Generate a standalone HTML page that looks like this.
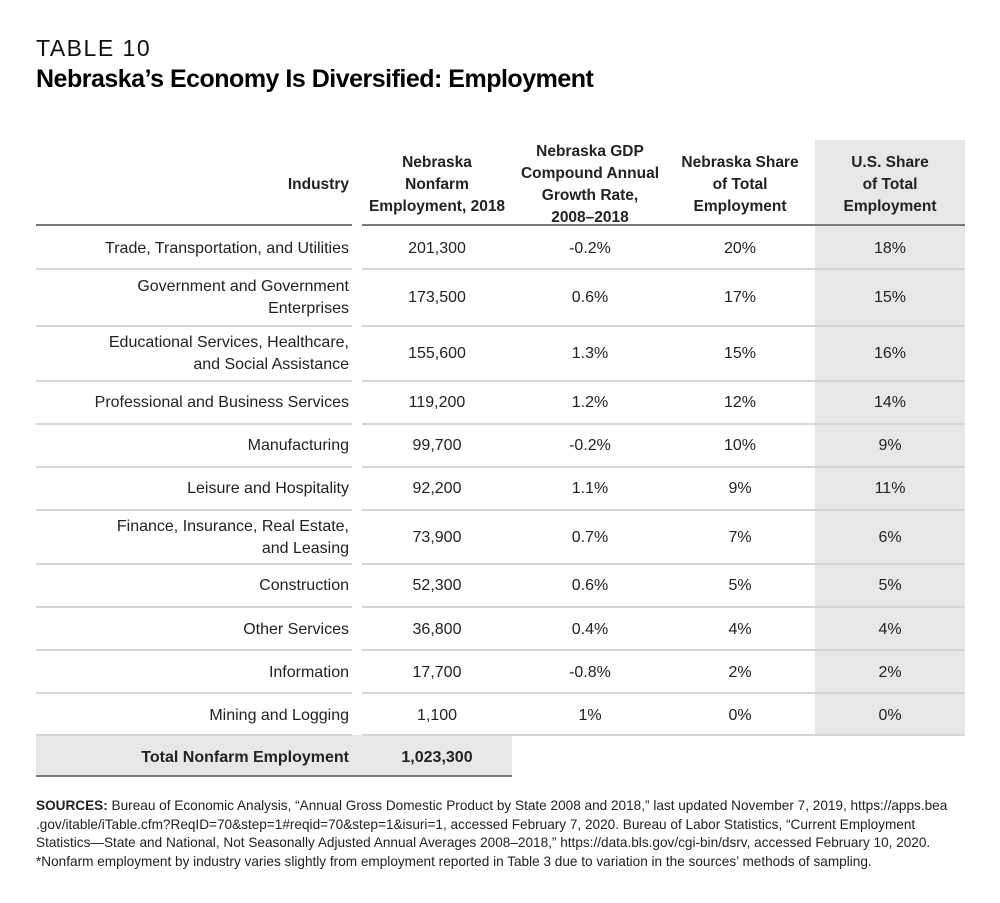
<!DOCTYPE html>
<html><head><meta charset="utf-8"><style>
body{margin:0;background:#fff;width:1000px;height:903px;position:relative;font-family:"Liberation Sans",sans-serif;color:#222;overflow:hidden}
.a{position:absolute}
.t{position:absolute;font-size:16px;line-height:22px;white-space:nowrap}
.r{text-align:right}
.c{text-align:center;transform:translateX(-50%)}
.h{font-weight:bold;font-size:15.5px;line-height:22px}
.ln{position:absolute;height:2px;background:#d6d6d6}
.hl{position:absolute;height:2px;background:#7a7a7a}
</style></head><body>
<div class="a" style="left:36px;top:35px;font-size:23px;letter-spacing:1.5px;color:#111">TABLE 10</div>
<div class="a" style="left:36px;top:65px;font-size:25px;font-weight:bold;color:#000;letter-spacing:-0.5px">Nebraska’s Economy Is Diversified: Employment</div>
<div class="a" style="left:815px;top:140px;width:150px;height:595px;background:#e6e7e8"></div>
<div class="a" style="left:36px;top:735px;width:476px;height:41px;background:#e6e7e8"></div>
<div class="hl" style="left:36px;top:224px;width:316px"></div>
<div class="hl" style="left:362px;top:224px;width:603px"></div>
<div class="hl" style="left:36px;top:775px;width:476px"></div>
<div class="t h r" style="left:36px;width:313px;top:174px">Industry</div>
<div class="t h c" style="left:437px;top:152px;text-align:center">Nebraska<br>Nonfarm<br>Employment, 2018</div>
<div class="t h c" style="left:590px;top:141px;text-align:center">Nebraska GDP<br>Compound Annual<br>Growth Rate,<br>2008–2018</div>
<div class="t h c" style="left:740px;top:152px;text-align:center">Nebraska Share<br>of Total<br>Employment</div>
<div class="t h c" style="left:890px;top:152px;text-align:center">U.S. Share<br>of Total<br>Employment</div>
<div id="rows"></div>
<script>
var d=[["Trade, Transportation, and Utilities","201,300","-0.2%","20%","18%",247,268],
["Government and Government<br>Enterprises","173,500","0.6%","17%","15%",296,325],
["Educational Services, Healthcare,<br>and Social Assistance","155,600","1.3%","15%","16%",352,380],
["Professional and Business Services","119,200","1.2%","12%","14%",401,423],
["Manufacturing","99,700","-0.2%","10%","9%",444,466],
["Leisure and Hospitality","92,200","1.1%","9%","11%",487,509],
["Finance, Insurance, Real Estate,<br>and Leasing","73,900","0.7%","7%","6%",536,563],
["Construction","52,300","0.6%","5%","5%",584,606],
["Other Services","36,800","0.4%","4%","4%",628,649],
["Information","17,700","-0.8%","2%","2%",671,692],
["Mining and Logging","1,100","1%","0%","0%",714,734]];
var h="";
d.forEach(function(r){var y=r[5]-9;var two=r[0].indexOf("<br>")>0;
h+='<div class="t r" style="left:36px;width:313px;top:'+(two?y-11:y)+'px">'+r[0]+'</div>';
h+='<div class="t c" style="left:437px;top:'+y+'px">'+r[1]+'</div>';
h+='<div class="t c" style="left:590px;top:'+y+'px">'+r[2]+'</div>';
h+='<div class="t c" style="left:740px;top:'+y+'px">'+r[3]+'</div>';
h+='<div class="t c" style="left:890px;top:'+y+'px">'+r[4]+'</div>';
h+='<div class="ln" style="left:36px;width:316px;top:'+r[6]+'px"></div><div class="ln" style="left:362px;width:603px;top:'+r[6]+'px"></div>';});
document.getElementById("rows").innerHTML=h;
</script>
<div class="t r" style="left:36px;width:313px;top:747px;font-weight:bold">Total Nonfarm Employment</div>
<div class="t c" style="left:437px;top:747px;font-weight:bold">1,023,300</div>
<div class="a" style="left:36px;top:797px;width:960px;font-size:13.6px;line-height:18.7px;color:#222;white-space:nowrap"><b>SOURCES:</b> Bureau of Economic Analysis, “Annual Gross Domestic Product by State 2008 and 2018,” last updated November 7, 2019, https://apps.bea<br>.gov/itable/iTable.cfm?ReqID=70&amp;step=1#reqid=70&amp;step=1&amp;isuri=1, accessed February 7, 2020. Bureau of Labor Statistics, “Current Employment<br>Statistics—State and National, Not Seasonally Adjusted Annual Averages 2008–2018,” https://data.bls.gov/cgi-bin/dsrv, accessed February 10, 2020.<br>*Nonfarm employment by industry varies slightly from employment reported in Table 3 due to variation in the sources’ methods of sampling.</div>
</body></html>
